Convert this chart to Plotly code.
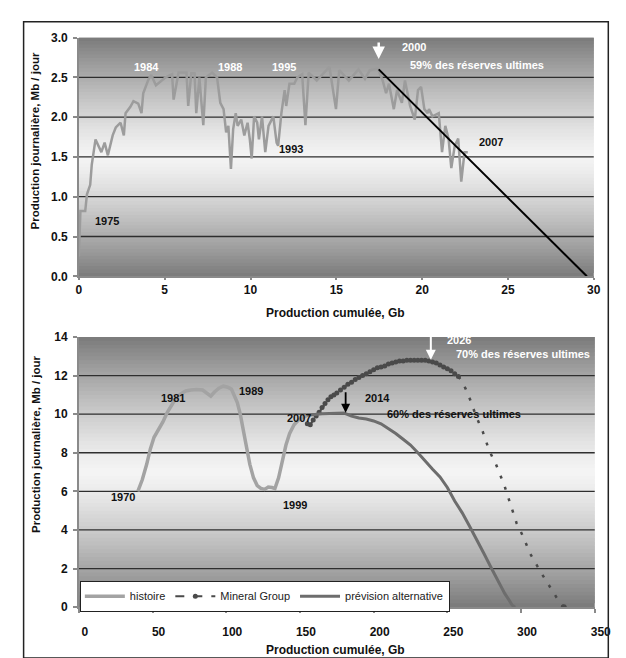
import plotly.graph_objects as go

# ---------------- DATA ----------------
# Top chart: history (cumulative Gb vs Mb/d)
top_x = [0, 0.09, 0.37, 0.47, 0.66, 0.75, 0.97, 1.31, 1.50, 1.69, 1.97, 2.15, 2.43, 2.62, 2.72,
         3.0, 3.18, 3.46, 3.65, 3.75, 4.03, 4.21, 4.49, 5.06, 5.43, 5.52, 5.81, 6.27, 6.37, 6.55,
         6.74, 6.84, 7.02, 7.25, 7.40, 7.77, 8.05, 8.24, 8.43, 8.58, 8.71, 8.86, 8.99, 9.14, 9.25,
         9.46, 9.64, 9.83, 9.96, 10.07, 10.21, 10.39, 10.49, 10.67, 10.86, 11.05, 11.33, 11.52,
         11.61, 11.8, 11.99, 12.08, 12.27, 12.55, 12.73, 13.01, 13.2, 13.39, 13.86, 14.23, 14.6,
         14.98, 15.17, 15.73, 16.29, 16.67, 16.95, 17.42, 17.7, 17.9, 18.07, 18.35, 18.54, 18.82,
         19.0, 19.3, 19.57, 19.76, 19.94, 20.13, 20.32, 20.4, 20.6, 20.97, 21.16, 21.35, 21.54,
         21.7, 21.9, 22.1, 22.28, 22.47, 22.66]
top_y = [0.25, 0.82, 0.82, 1.03, 1.15, 1.4, 1.72, 1.56, 1.68, 1.52, 1.77, 1.87, 1.93, 1.77, 2.05,
         2.13, 2.2, 2.17, 2.05, 2.3, 2.46, 2.53, 2.4, 2.5, 2.54, 2.22, 2.56, 2.56, 2.14, 2.55,
         2.55, 2.05, 2.5, 1.9, 2.5, 2.56, 2.5, 2.18, 2.1, 1.81, 1.89, 1.35, 1.85, 2.05, 1.89,
         1.97, 1.77, 1.93, 1.72, 1.48, 2.01, 1.93, 1.72, 2.01, 1.56, 1.89, 2.01, 1.68,
         1.64, 2.05, 2.34, 2.14, 2.42, 2.42, 2.5, 2.54, 1.9, 2.56, 2.46, 2.55, 2.63,
         2.1, 2.59, 2.46, 2.6, 2.48, 2.59, 2.61, 2.46, 2.3, 2.42, 2.1, 2.34, 2.18,
         2.46, 2.14, 1.97, 2.34, 2.38, 2.1, 2.05, 2.1, 2.01, 2.05, 1.56, 1.89, 1.73,
         1.36, 1.64, 1.73, 1.19, 1.56, 1.56]
# Top chart: linear trend from 2000 peak to zero
trend_x = [17.47, 29.6]
trend_y = [2.6, 0.0]

top_xticks = [0, 5, 10, 15, 20, 25, 30]
top_yticks = [0.0, 0.5, 1.0, 1.5, 2.0, 2.5, 3.0]

# Bottom chart: history
hist_x = [40, 43, 46, 48.5, 51, 54, 57, 60, 63, 66, 69, 72.5, 76, 80, 84, 87, 89.5, 92, 95, 98,
          101, 103.5, 105.5, 107.5, 109.5, 111.5, 113.5, 116, 118.5, 121, 123.5, 126, 128.5,
          131, 133, 135.5, 138, 140.5, 143, 146, 149, 152, 155]
hist_y = [6.0, 6.6, 7.4, 8.2, 8.8, 9.2, 9.6, 10.1, 10.5, 10.85, 11.05, 11.2, 11.25, 11.28, 11.25,
          11.1, 10.94, 11.15, 11.35, 11.45, 11.4, 11.3, 11.0, 10.6, 10.0, 9.1, 8.4, 7.4, 6.7,
          6.3, 6.15, 6.1, 6.22, 6.2, 6.15, 6.7, 7.5, 8.4, 9.0, 9.45, 9.7, 9.85, 9.95]
# Bottom chart: Mineral Group forecast (dense annual points, then tail)
mg_x = [155, 157, 159, 161, 163, 165, 167, 169, 171, 173, 175, 177.5, 180, 182.5, 185, 187.5,
        190, 192.5, 195, 197.5, 200, 202.5, 205, 207.5, 210, 212.5, 215, 217.5, 220, 222.5,
        225, 227.5, 230, 232.5, 235, 237.5, 240, 242.5, 245, 247.5, 250, 252.5, 255, 257.5]
mg_y = [9.5, 9.45, 9.7, 9.9, 10.1, 10.35, 10.55, 10.75, 10.9, 11.0, 11.1, 11.25, 11.4, 11.55,
        11.65, 11.8, 11.9, 12.0, 12.1, 12.2, 12.3, 12.4, 12.45, 12.5, 12.6, 12.65, 12.7, 12.75,
        12.75, 12.8, 12.8, 12.8, 12.8, 12.8, 12.8, 12.75, 12.7, 12.65, 12.55, 12.45, 12.35,
        12.25, 12.1, 11.95]
mg_tail_x = [257.5, 260, 262.5, 265.5, 269.5, 274, 278.5, 283, 288.5, 293, 297, 301.5, 306,
             313.5, 318, 324.5, 329]
mg_tail_y = [11.95, 11.7, 11.3, 10.75, 9.9, 9.1, 8.1, 7.4, 6.35, 5.35, 4.35, 3.65, 2.8,
             1.8, 1.25, 0.45, 0.0]
# Bottom chart: alternative forecast
alt_x = [155, 160, 165, 170, 175, 180, 185, 190, 195, 200, 205, 210, 215, 220, 225, 230, 235,
         240, 245, 250, 255, 260, 265, 270, 275, 280, 285, 289, 292, 294, 296]
alt_y = [9.95, 10.0, 10.02, 10.04, 10.06, 10.06, 9.9, 9.8, 9.75, 9.65, 9.5, 9.25, 9.0, 8.7,
         8.4, 8.0, 7.55, 7.15, 6.75, 6.2, 5.5, 4.9, 4.2, 3.5, 2.75, 2.0, 1.25, 0.7, 0.35, 0.1, 0.0]

bot_xticks = [0, 50, 100, 150, 200, 250, 300, 350]
bot_yticks = [0, 2, 4, 6, 8, 10, 12, 14]

# ---------------- STYLE ----------------
W, H = 626, 658
FONT = "Liberation Sans"
C_HIST = "#a3a3a3"
C_ALT = "#6d6d6d"
C_MG = "#4a4a4a"
GRID = "#2e2e2e"
AXIS = "#8a8a8a"

def px_x(p):
    return p / W

def px_y(p):
    return 1 - p / H

fig = go.Figure()

# top traces
fig.add_trace(go.Scatter(x=top_x, y=top_y, mode="lines", line=dict(color="#9c9c9c", width=2.5),
                         showlegend=False, xaxis="x", yaxis="y", hoverinfo="skip"))
fig.add_trace(go.Scatter(x=trend_x, y=trend_y, mode="lines", line=dict(color="black", width=2),
                         showlegend=False, xaxis="x", yaxis="y", hoverinfo="skip"))

# bottom traces
fig.add_trace(go.Scatter(x=hist_x, y=hist_y, mode="lines", name="histoire",
                         line=dict(color=C_HIST, width=3.5), xaxis="x2", yaxis="y2"))
fig.add_trace(go.Scatter(x=mg_x, y=mg_y, mode="lines+markers", name="Mineral Group",
                         line=dict(color=C_MG, width=2, dash="dash"),
                         marker=dict(color=C_MG, size=5), legendgroup="mg",
                         xaxis="x2", yaxis="y2"))
fig.add_trace(go.Scatter(x=mg_tail_x, y=mg_tail_y, mode="lines", showlegend=False,
                         line=dict(color=C_MG, width=2.5, dash="3px,9px"), legendgroup="mg",
                         xaxis="x2", yaxis="y2"))
fig.add_trace(go.Scatter(x=[mg_tail_x[-1]], y=[mg_tail_y[-1]], mode="markers", showlegend=False,
                         marker=dict(color=C_MG, size=6), legendgroup="mg",
                         xaxis="x2", yaxis="y2"))
fig.add_trace(go.Scatter(x=alt_x, y=alt_y, mode="lines", name="prévision alternative",
                         line=dict(color=C_ALT, width=3), xaxis="x2", yaxis="y2"))

# background gradient bands + gridlines (shapes)
shapes = []
def gradient(xref, yref, ymax, n=70, dark=122, light=244):
    for i in range(n):
        t = (i + 0.5) / n
        f = 1 - abs(2 * t - 1) ** 1.3
        v = int(round(dark + (light - dark) * f))
        y0 = ymax * i / n
        y1 = min(ymax, ymax * (i + 2.0) / n)
        shapes.append(dict(type="rect", xref=xref, yref=yref, x0=0, x1=1, y0=y0, y1=y1,
                           fillcolor=f"rgb({v},{v},{v})", line=dict(width=0), layer="below"))

gradient("x domain", "y", top_yticks[-1])
gradient("x2 domain", "y2", bot_yticks[-1])
for v in top_yticks[1:-1]:
    shapes.append(dict(type="line", xref="x domain", yref="y", x0=0, x1=1, y0=v, y1=v,
                       line=dict(color=GRID, width=1.3), layer="below"))
for v in bot_yticks[1:-1]:
    shapes.append(dict(type="line", xref="x2 domain", yref="y2", x0=0, x1=1, y0=v, y1=v,
                       line=dict(color=GRID, width=1.3), layer="below"))
# outer frame
shapes.append(dict(type="rect", xref="paper", yref="paper", x0=px_x(13), x1=px_x(616),
                   y0=px_y(657), y1=px_y(7), line=dict(color="#222", width=1.5)))

tickfont = dict(family=FONT, size=12, color="#111", weight="bold")
common_axis = dict(showgrid=False, zeroline=False, showline=True, linecolor=AXIS, linewidth=1.5,
                   ticks="outside", tickcolor=AXIS, tickwidth=1.5, tickfont=tickfont,
                   fixedrange=True)

fig.update_layout(
    width=W, height=H,
    margin=dict(l=0, r=0, t=0, b=0),
    paper_bgcolor="white", plot_bgcolor="white",
    font=dict(family=FONT, size=11, color="#111"),
    xaxis=dict(domain=[px_x(70), px_x(601)], anchor="y", range=[0, 30], tickvals=top_xticks,
               ticklabelstandoff=0, ticklen=2, **common_axis),
    yaxis=dict(domain=[px_y(267), px_y(23)], anchor="x", range=[0, 3], tickvals=top_yticks,
               tickformat=".1f", ticklabelstandoff=3, ticklen=4, **common_axis),
    xaxis2=dict(domain=[px_x(70), px_x(602)], anchor="y2", range=[0, 350], tickvals=bot_xticks,
                ticklabelstandoff=9, ticklabelshift=6, ticklen=4, **common_axis),
    yaxis2=dict(domain=[px_y(605), px_y(329)], anchor="x2", range=[0, 14], tickvals=bot_yticks,
                ticklabelstandoff=3, ticklen=4, **common_axis),
    shapes=shapes,
    showlegend=True,
    legend=dict(orientation="h", x=px_x(71), y=px_y(578), xanchor="left", yanchor="top",
                bgcolor="white", bordercolor="#222", borderwidth=1,
                font=dict(family=FONT, size=11, color="#222"),
                tracegroupgap=0, itemwidth=40),
)

ann = []
def txt(text, x, y, xref, yref, color="#111", size=11, xanchor="center"):
    ann.append(dict(text=text, x=x, y=y, xref=xref, yref=yref, showarrow=False,
                    font=dict(family=FONT, size=size, color=color, weight="bold"),
                    xanchor=xanchor, yanchor="middle"))

# top labels
txt("1984", 3.93, 2.63, "x", "y", "white")
txt("1988", 8.82, 2.63, "x", "y", "white")
txt("1995", 11.97, 2.63, "x", "y", "white")
txt("1993", 12.36, 1.6, "x", "y")
txt("1975", 1.63, 0.69, "x", "y")
txt("2000", 18.7, 2.88, "x", "y", "white", xanchor="left")
txt("59% des réserves ultimes", 19.2, 2.66, "x", "y", "white", xanchor="left")
txt("2007", 24.0, 1.69, "x", "y")
ann.append(dict(x=17.47, y=2.73, xref="x", yref="y", ax=0, ay=-18, text="", showarrow=True,
                arrowhead=2, arrowsize=1, arrowwidth=2.5, arrowcolor="white"))

# bottom labels
txt("1970", 29.6, 5.7, "x2", "y2")
txt("1981", 63.8, 10.84, "x2", "y2")
txt("1989", 117.1, 11.2, "x2", "y2")
txt("1999", 146.7, 5.29, "x2", "y2")
txt("2007", 149.3, 9.82, "x2", "y2")
txt("2014", 202.6, 10.84, "x2", "y2")
txt("60% des réserves ultimes", 254.6, 10.03, "x2", "y2")
txt("2026", 248.7, 13.84, "x2", "y2", "white", size=11, xanchor="left")
txt("70% des réserves ultimes", 301.3, 13.12, "x2", "y2", "white")
ann.append(dict(x=181, y=10.08, xref="x2", yref="y2", ax=0, ay=-22, text="", showarrow=True,
                arrowhead=2, arrowsize=1, arrowwidth=1.8, arrowcolor="black"))
ann.append(dict(x=238.8, y=12.82, xref="x2", yref="y2", ax=0, ay=-30, text="", showarrow=True,
                arrowhead=2, arrowsize=1, arrowwidth=2, arrowcolor="white"))

# axis titles
for yy in (304, 649):
    ann.append(dict(text="Production cumulée, Gb", x=px_x(335), y=px_y(yy), xref="paper",
                    yref="paper", showarrow=False, xanchor="center", yanchor="middle",
                    font=dict(family=FONT, size=12, color="#111", weight="bold")))
for yy in (128, 438):
    ann.append(dict(text="Production journalière, Mb / jour", x=px_x(25), y=px_y(yy),
                    xref="paper", yref="paper", showarrow=False, textangle=-90,
                    xanchor="center", yanchor="middle",
                    font=dict(family=FONT, size=11.5, color="#111", weight="bold")))

fig.update_layout(annotations=ann)
fig.write_html("out.html")
